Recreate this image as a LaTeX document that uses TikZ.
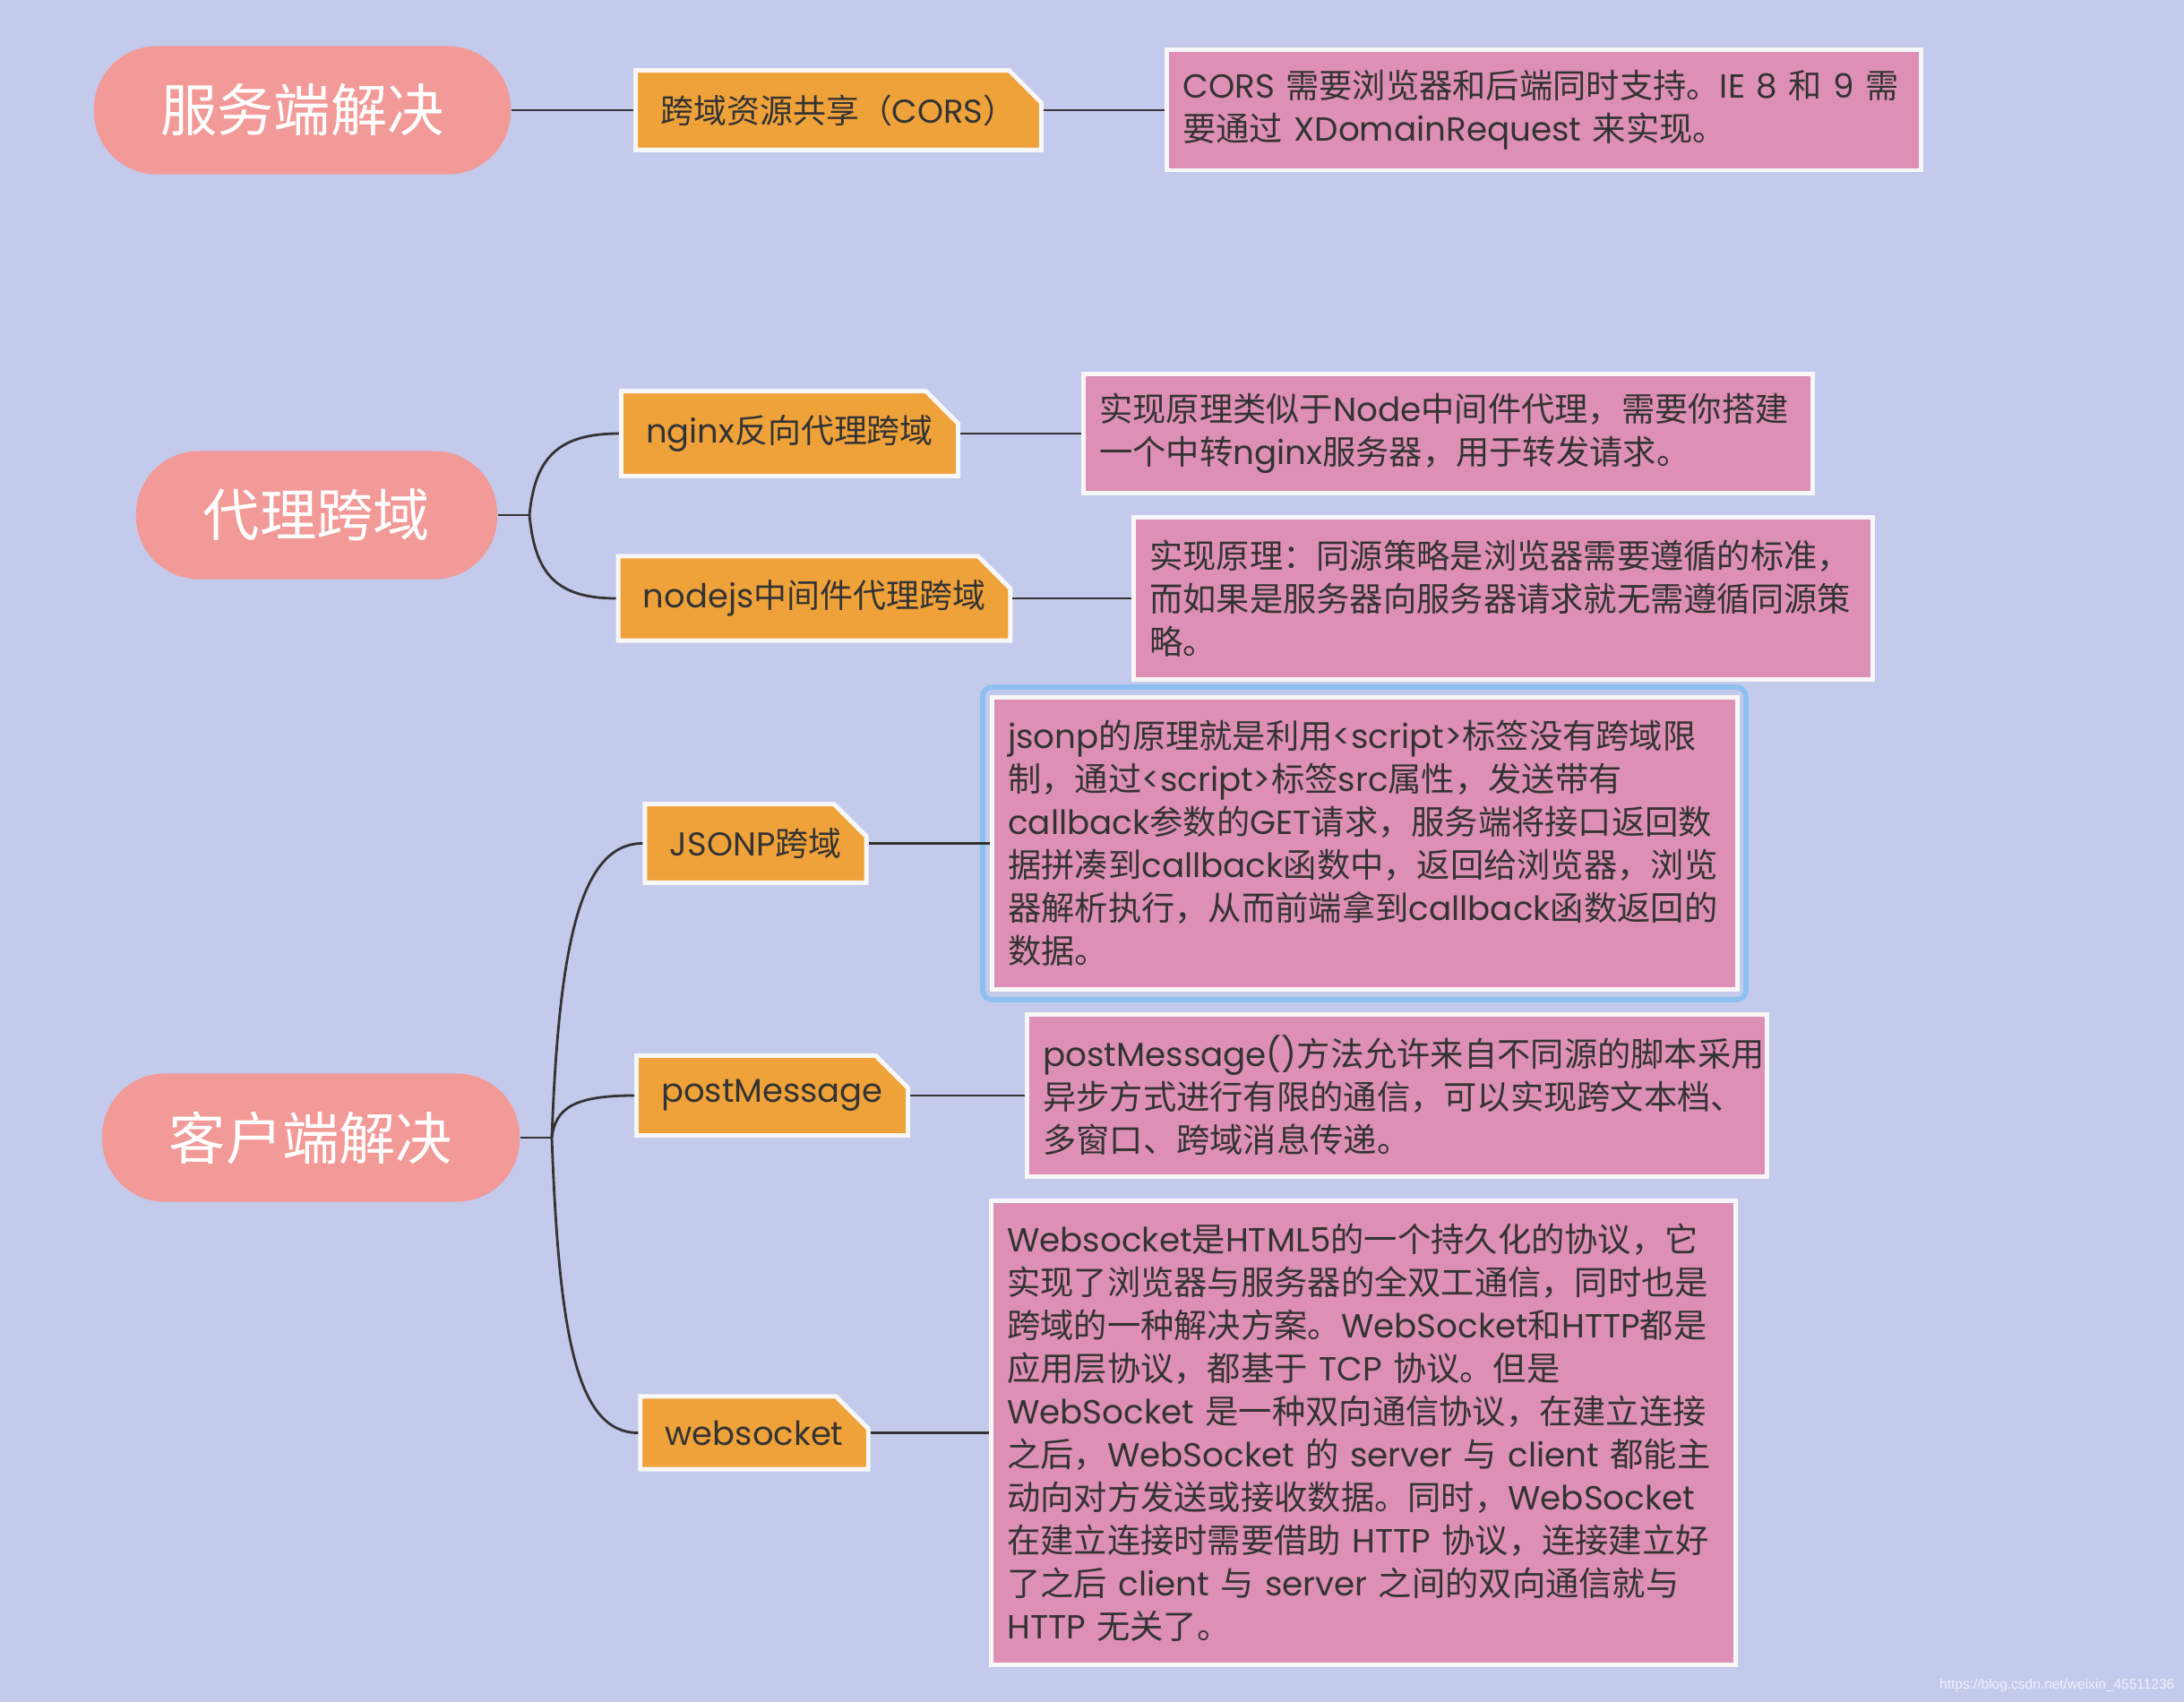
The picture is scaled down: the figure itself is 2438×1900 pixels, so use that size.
\documentclass[tikz,border=0pt]{standalone}
\usepackage{fontspec}
\usetikzlibrary{shapes.misc}
\setmainfont{Poppins}
\newfontfamily\lat{Poppins}
\newfontfamily\cjk{Noto Sans CJK SC}
\newfontfamily\wmfont{Liberation Sans}
\newXeTeXintercharclass\hanclass
\newcount\hancnt
\hancnt="4E00
\loop
	\XeTeXcharclass\hancnt=\hanclass
	\ifnum\hancnt<"9FFF \advance\hancnt by 1
\repeat
\XeTeXcharclass"3001=\hanclass
\XeTeXcharclass"3002=\hanclass
\XeTeXcharclass"FF0C=\hanclass
\XeTeXcharclass"FF1A=\hanclass
\XeTeXcharclass"FF08=\hanclass
\XeTeXcharclass"FF09=\hanclass
\XeTeXinterchartoks 0 \hanclass = {\cjk}
\XeTeXinterchartoks 4095 \hanclass = {\cjk}
\XeTeXinterchartoks \hanclass 0 = {\lat}
\XeTeXinterchartoks 4095 0 = {\lat}
\XeTeXinterchartokenstate=1
\definecolor{bgcol}{HTML}{C3CAEB}
\definecolor{pillcol}{HTML}{F29A97}
\definecolor{orangecol}{HTML}{F0A23A}
\definecolor{notecol}{HTML}{DE8FB6}
\definecolor{inkcol}{HTML}{333333}
\definecolor{selcol}{HTML}{8CC0F0}
\definecolor{edgecol}{HTML}{F7F7F7}
\tikzset{
	topic/.style={rectangle, rounded corners=0.7cm, fill=pillcol, text=white, font=\fontsize{18}{22}\selectfont, minimum height=1.43cm},
	subtopic/.style={chamfered rectangle, chamfered rectangle corners=north east, chamfered rectangle xsep=0.18cm, chamfered rectangle ysep=0.18cm, inner xsep=2.8pt, inner ysep=2.5pt, fill=orangecol, draw=edgecol, line width=1.4pt, text=inkcol, font=\fontsize{10.5}{13}\selectfont},
	detail/.style={rectangle, fill=notecol, draw=edgecol, line width=1.4pt, text=inkcol, font=\fontsize{10.6}{13.66}\selectfont, align=left, inner xsep=0.18cm},
	link/.style={draw=inkcol, line width=0.8pt}
}
\begin{document}
\begin{tikzpicture}[x=0.01cm, y=-0.01cm]
	\fill[bgcol] (0,0) rectangle (2438,1900);
	\useasboundingbox (0,0) rectangle (2438,1900);

	\node[topic, minimum width=4.65cm] (server) at (337.5,123) {服务端解决};
	\node[subtopic, minimum width=4.33cm, minimum height=0.79cm] (cors) at (936,123) {跨域资源共享（CORS）};
	\node[detail, text width=8.06cm, minimum height=1.34cm] (corsnote) at (1723.5,123) {CORS 需要浏览器和后端同时支持。IE 8 和 9 需\\要通过 XDomainRequest 来实现。};
	\draw[link] (server.east) -- (cors.west);
	\draw[link] (cors.east) -- (corsnote.west);

	\node[topic, minimum width=4.03cm] (proxy) at (353.5,575) {代理跨域};
	\coordinate (jproxy) at (591,575);
	\node[subtopic, minimum width=3.56cm, minimum height=0.78cm] (nginx) at (881.5,484) {nginx反向代理跨域};
	\node[subtopic, minimum width=4.11cm, minimum height=0.79cm] (nodejs) at (909,668) {nodejs中间件代理跨域};
	\node[detail, text width=7.78cm, minimum height=1.32cm] (nginxnote) at (1616.5,484) {实现原理类似于Node中间件代理，需要你搭建\\一个中转nginx服务器，用于转发请求。};
	\node[detail, text width=7.89cm, minimum height=1.80cm] (nodejsnote) at (1678,668) {实现原理：同源策略是浏览器需要遵循的标准，\\而如果是服务器向服务器请求就无需遵循同源策\\略。};
	\draw[link] (proxy.east) -- (jproxy);
	\draw[link] (jproxy) .. controls +(6,-62) and +(-70,0) .. (nginx.west);
	\draw[link] (jproxy) .. controls +(6,62) and +(-70,0) .. (nodejs.west);
	\draw[link] (nginx.east) -- (nginxnote.west);
	\draw[link] (nodejs.east) -- (nodejsnote.west);

	\node[topic, minimum width=4.66cm] (client) at (347,1270) {客户端解决};
	\coordinate (jclient) at (616,1270);
	\node[subtopic, minimum width=2.30cm, minimum height=0.76cm] (jsonp) at (843.5,941.5) {JSONP跨域};
	\node[subtopic, minimum width=2.67cm, minimum height=0.75cm] (postmsg) at (862,1223) {postMessage};
	\node[subtopic, minimum width=2.27cm, minimum height=0.76cm] (wsock) at (842,1599.5) {websocket};
	\draw[selcol, line width=1.6pt, rounded corners=3pt] (1097,767) rectangle (1949,1116);
	\node[detail, text width=7.96cm, minimum height=3.26cm] (jsonpnote) at (1523.5,941.5) {jsonp的原理就是利用<script>标签没有跨域限\\制，通过<script>标签src属性，发送带有\\callback参数的GET请求，服务端将接口返回数\\据拼凑到callback函数中，返回给浏览器，浏览\\器解析执行，从而前端拿到callback函数返回的\\数据。};
	\node[detail, text width=7.90cm, minimum height=1.80cm] (postmsgnote) at (1559.5,1223) {postMessage()方法允许来自不同源的脚本采用\\异步方式进行有限的通信，可以实现跨文本档、\\多窗口、跨域消息传递。};
	\node[detail, text width=7.95cm, minimum height=5.17cm] (wsocknote) at (1522,1599.5) {Websocket是HTML5的一个持久化的协议，它\\实现了浏览器与服务器的全双工通信，同时也是\\跨域的一种解决方案。WebSocket和HTTP都是\\应用层协议，都基于 TCP 协议。但是\\WebSocket 是一种双向通信协议，在建立连接\\之后，WebSocket 的 server 与 client 都能主\\动向对方发送或接收数据。同时，WebSocket\\在建立连接时需要借助 HTTP 协议，连接建立好\\了之后 client 与 server 之间的双向通信就与\\HTTP 无关了。};
	\draw[link] (client.east) -- (jclient);
	\draw[link] (jclient) .. controls +(8,-219) and +(-69,0) .. (jsonp.west);
	\draw[link] (jclient) .. controls +(4,-32) and +(-69,0) .. (postmsg.west);
	\draw[link] (jclient) .. controls +(8,219) and +(-69,0) .. (wsock.west);
	\draw[link] (jsonp.east) -- (jsonpnote.west);
	\draw[link] (postmsg.east) -- (postmsgnote.west);
	\draw[link] (wsock.east) -- (wsocknote.west);

	\node[anchor=east, text=white, opacity=0.75, inner sep=0pt, font={\wmfont\fontsize{4.4}{5.3}\selectfont\XeTeXinterchartokenstate=0\relax}] (mark) at (2428,1881) {https://blog.csdn.net/weixin\_45511236};
\end{tikzpicture}
\end{document}
